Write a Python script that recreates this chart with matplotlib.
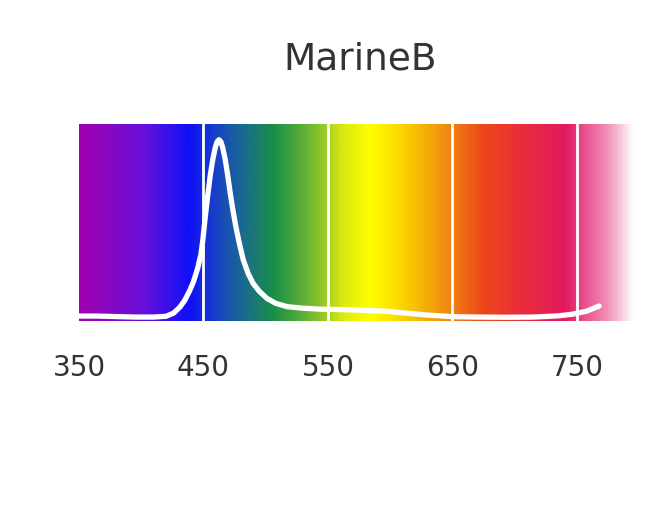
## MarineB spectrum over a rainbow background
import matplotlib
matplotlib.use('Agg')
import matplotlib.pyplot as plt
import numpy as np
from matplotlib.colors import LinearSegmentedColormap

# spectrum curve (nm, relative intensity)
wavelength = [350, 365, 383, 395, 410, 420, 426, 431, 435, 439, 442, 445.5, 448, 449.5,
              451.5, 453.5, 455.5, 457.5, 459.5, 461, 462.5, 464, 465.5, 467.5, 469.5,
              471.5, 473.5, 476, 479, 482, 486, 490, 495, 501, 508, 517, 530, 544,
              560, 576, 595, 613, 630, 650, 670, 694, 715, 735, 747, 758, 768]
intensity = [0.025, 0.025, 0.022, 0.02, 0.02, 0.024, 0.04, 0.07, 0.105, 0.155, 0.2, 0.27, 0.34, 0.41,
             0.53, 0.64, 0.74, 0.82, 0.88, 0.91, 0.92, 0.91, 0.88, 0.82, 0.74,
             0.65, 0.57, 0.48, 0.39, 0.31, 0.24, 0.19, 0.15, 0.115, 0.09, 0.073, 0.065, 0.06,
             0.058, 0.055, 0.05, 0.04, 0.03, 0.022, 0.02, 0.019, 0.02, 0.026, 0.035, 0.05, 0.076]

# background gradient colour stops
stop_nm = [350, 400, 438, 459, 481, 507, 529, 545, 561, 584, 608, 646, 675, 702, 742, 755, 776, 797, 800]
stop_colors = ['#a000b0', '#6a10d8', '#1010f8', '#1840c8', '#1a6a90', '#1a9048',
               '#5aac3a', '#90c828', '#d8e810', '#ffff00', '#fbd800', '#f08a10',
               '#ee4818', '#ea3038', '#e21a60', '#e84888', '#f090b8', '#ffffff', '#ffffff']

ticks = [350, 450, 550, 650, 750]
grid_lines = [450, 550, 650, 750]

x_min, x_max = 350, 800

fig = plt.figure(figsize=(6.65, 5.07), dpi=100)
ax = fig.add_axes([79 / 665, 1 - 321 / 507, 560 / 665, 197 / 507])

pos = [(n - x_min) / (x_max - x_min) for n in stop_nm]
cmap = LinearSegmentedColormap.from_list('spectrum', list(zip(pos, stop_colors)))
grad = np.linspace(0, 1, 600).reshape(1, -1)
ax.imshow(grad, cmap=cmap, aspect='auto', extent=[x_min, x_max, 0, 1], zorder=0)

for g in grid_lines:
    ax.axvline(g, color='white', lw=2, zorder=1)

ax.plot(wavelength, intensity, color='white', lw=3.8, solid_capstyle='round',
        solid_joinstyle='round', zorder=2)

ax.set_xlim(x_min, x_max)
ax.set_ylim(0, 1)
ax.set_xticks(ticks)
ax.set_xticklabels([str(t) for t in ticks])
ax.set_yticks([])
ax.tick_params(axis='x', length=0, pad=24, labelsize=20, labelcolor='#333333')
for s in ax.spines.values():
    s.set_visible(False)

fig.text(360 / 665, 1 - 59 / 507, 'MarineB', ha='center', va='center',
         fontsize=27, color='#333333')

fig.savefig('out.png', dpi=100)
